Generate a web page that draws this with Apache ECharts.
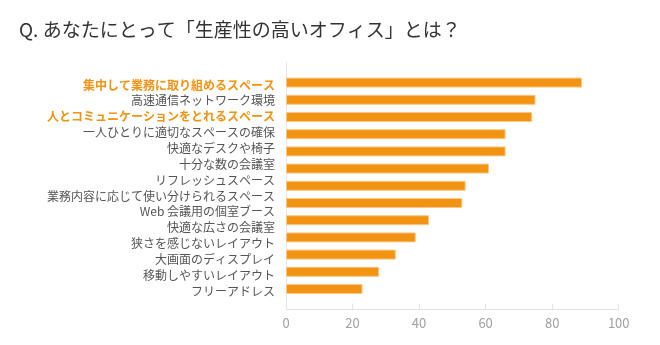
<!DOCTYPE html>
<html><head><meta charset="utf-8">
<script src="https://cdn.jsdelivr.net/npm/echarts@6/dist/echarts.min.js"></script>
<style>html,body{margin:0;padding:0;background:#fff}#c{width:660px;height:345px}</style>
</head><body><div id="c"></div>
<script>
const title = 'Q. あなたにとって「生産性の高いオフィス」とは？';
const categories = [
  '集中して業務に取り組めるスペース',
  '高速通信ネットワーク環境',
  '人とコミュニケーションをとれるスペース',
  '一人ひとりに適切なスペースの確保',
  '快適なデスクや椅子',
  '十分な数の会議室',
  'リフレッシュスペース',
  '業務内容に応じて使い分けられるスペース',
  'Web 会議用の個室ブース',
  '快適な広さの会議室',
  '狭さを感じないレイアウト',
  '大画面のディスプレイ',
  '移動しやすいレイアウト',
  'フリーアドレス'
];
const values = [89, 75, 74, 66, 66, 61, 54, 53, 43, 39, 33, 28, 23];
const highlighted = ['集中して業務に取り組めるスペース', '人とコミュニケーションをとれるスペース'];
const xTicks = [0, 20, 40, 60, 80, 100];

const font = '"Noto Sans CJK JP", "Noto Sans", sans-serif';
const orange = '#F39313';
const chart = echarts.init(document.getElementById('c'));
chart.setOption({
  animation: false,
  title: {
    text: title, left: 14, top: 15,
    textStyle: {fontFamily: font, fontSize: 19, fontWeight: 'normal', color: '#333'}
  },
  grid: [
    {left: 286, right: 41.3, top: 62, bottom: 36},
    {left: 286, right: 41.3, top: 74, bottom: 47.4},
    {left: 286, right: 41.3, top: 77.1, bottom: 46}
  ],
  xAxis: [
    {
      gridIndex: 0, type: 'value', min: xTicks[0], max: xTicks[xTicks.length - 1], interval: 20,
      axisLine: {show: true, lineStyle: {color: '#e3e3e3'}},
      axisTick: {show: true, inside: true, length: 5, lineStyle: {color: '#e3e3e3'}},
      splitLine: {show: false},
      axisLabel: {fontFamily: font, fontSize: 13, color: '#a0a0a0', margin: 8}
    },
    {gridIndex: 1, type: 'value', min: xTicks[0], max: xTicks[xTicks.length - 1], show: false},
    {gridIndex: 2, type: 'value', min: xTicks[0], max: xTicks[xTicks.length - 1], show: false}
  ],
  yAxis: [
    {
      gridIndex: 0, type: 'value', min: 0, max: 1,
      axisLine: {show: true, lineStyle: {color: '#e8e8e8'}},
      axisTick: {show: false}, axisLabel: {show: false}, splitLine: {show: false}
    },
    {
      gridIndex: 1, type: 'category', data: categories.slice(0, values.length), inverse: true,
      show: false
    },
    {
      gridIndex: 2, type: 'category', data: categories, inverse: true,
      axisLine: {show: false}, axisTick: {show: false}, splitLine: {show: false},
      axisLabel: {
        fontFamily: font, fontSize: 12, color: '#555', margin: 11,
        formatter: v => highlighted.includes(v) ? '{h|' + v + '}' : v,
        rich: {h: {fontFamily: font, fontSize: 12, color: orange, fontWeight: 'bold'}}
      }
    }
  ],
  series: [{
    type: 'bar', xAxisIndex: 1, yAxisIndex: 1, data: values, barWidth: 10,
    itemStyle: {color: orange, borderColor: '#f9c985', borderWidth: 1}
  }]
});
</script></body></html>
